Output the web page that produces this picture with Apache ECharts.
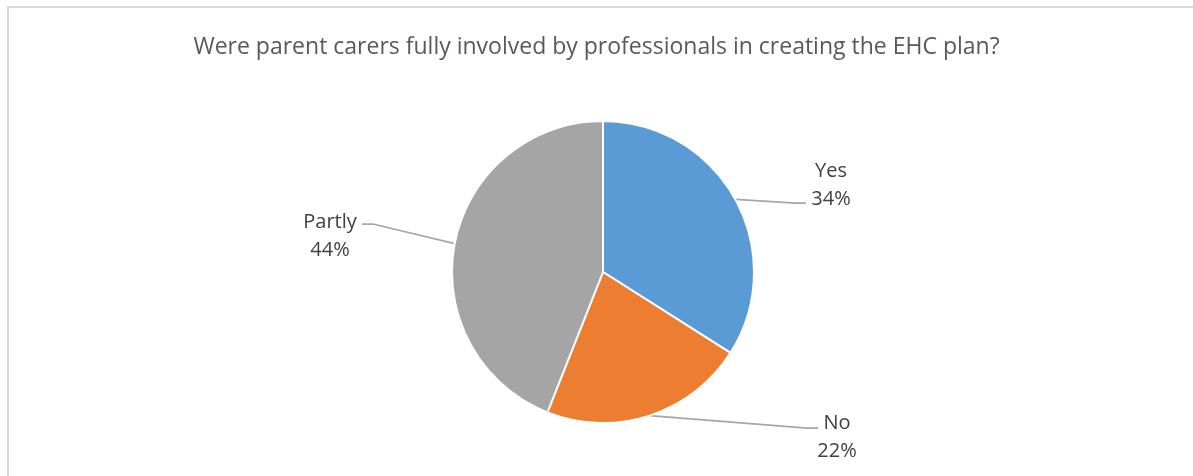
<!DOCTYPE html>
<html>
<head>
<meta charset="utf-8">
<script src="https://cdn.jsdelivr.net/npm/echarts@6/dist/echarts.min.js"></script>
<style>
  html, body { margin: 0; padding: 0; background: #ffffff; }
  #chart { width: 1193px; height: 476px; }
</style>
</head>
<body>
<div id="chart"></div>
<script>
// Survey answers and their shares (percent)
const categories = ['Yes', 'No', 'Partly'];
const shares = [34, 22, 44];
const sliceColors = ['#5B9BD5', '#ED7D31', '#A5A5A5'];
const chartTitle = 'Were parent carers fully involved by professionals in creating the EHC plan?';

// Label block centres and the leader-line bend / end points for each answer
const labelAnchors = [
  { x: 831, y: 185, bend: [796, 203], end: [806, 203] },
  { x: 837, y: 437, bend: [807, 428], end: [818, 428] },
  { x: 330, y: 236, bend: [373, 224], end: [362, 224] }
];

const FONT = '"Open Sans", "DejaVu Sans", sans-serif';

const chart = echarts.init(document.getElementById('chart'), null, { renderer: 'canvas' });

chart.setOption({
  backgroundColor: '#ffffff',
  animation: false,
  graphic: [{
    type: 'rect',
    silent: true,
    shape: { x: 8, y: 7, width: 1400, height: 700 },
    style: { fill: 'none', stroke: '#d9d9d9', lineWidth: 2 }
  }],
  title: {
    text: chartTitle,
    left: 'center',
    top: 31,
    textStyle: {
      fontFamily: FONT,
      fontSize: 23,
      fontWeight: 'normal',
      color: '#595959'
    }
  },
  series: [{
    type: 'pie',
    center: [603, 272],
    radius: [0, 151],
    startAngle: 90,
    clockwise: true,
    data: categories.map((name, i) => ({
      name: name,
      value: shares[i],
      itemStyle: { color: sliceColors[i] }
    })),
    itemStyle: { borderColor: '#ffffff', borderWidth: 2 },
    label: {
      show: true,
      position: 'outside',
      formatter: '{b}\n{c}%',
      fontFamily: FONT,
      fontSize: 20,
      lineHeight: 28,
      color: '#404040',
      align: 'center'
    },
    labelLine: {
      show: true,
      length: 20,
      length2: 10,
      lineStyle: { color: '#a6a6a6', width: 1.75 }
    },
    labelLayout: function (params) {
      const a = labelAnchors[params.dataIndex];
      const start = params.labelLinePoints ? params.labelLinePoints[0] : a.bend;
      return {
        x: a.x,
        y: a.y,
        align: 'center',
        verticalAlign: 'middle',
        labelLinePoints: [start, a.bend, a.end]
      };
    },
    emphasis: { disabled: true }
  }]
});
</script>
</body>
</html>
